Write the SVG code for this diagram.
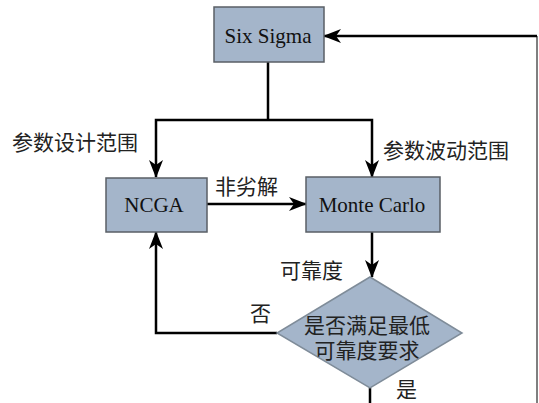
<svg xmlns="http://www.w3.org/2000/svg" width="539" height="403" viewBox="0 0 539 403">
<style>
.box{fill:#a4b5ca;stroke:#5a5f66;stroke-width:1.5}
.dia{fill:#a4b5ca;stroke:#7f8c99;stroke-width:1.5}
.en{font-family:"Liberation Serif",serif;font-size:21px;fill:#111;text-anchor:middle}
.cn{font-family:"Liberation Serif","Noto Sans CJK SC",sans-serif;font-size:21px;fill:#222}
.ln{fill:none;stroke:#000;stroke-width:2.5}
</style>
<defs>
<marker id="ah" viewBox="0 0 18 14" refX="17" refY="7" markerWidth="18" markerHeight="14" markerUnits="userSpaceOnUse" orient="auto">
<path d="M0,0 L18,7 L0,14 L5,7 Z" fill="#000"/>
</marker>
</defs>
<g id="connectors">
<path class="ln" d="M268,62 V120"/>
<path class="ln" d="M268,120 H156 V177" marker-end="url(#ah)"/>
<path class="ln" d="M268,120 H372 V177" marker-end="url(#ah)"/>
<path class="ln" d="M207,204 H306" marker-end="url(#ah)"/>
<path class="ln" d="M372,232 V277" marker-end="url(#ah)"/>
<path class="ln" d="M277,333 H156 V232" marker-end="url(#ah)"/>
<path class="ln" d="M370,388 V403"/>
<path fill="none" stroke="#555" stroke-width="1.5" d="M537,403 V36"/>
<path class="ln" d="M537,36 H324" marker-end="url(#ah)"/>
<text class="cn" x="12" y="150">参数设计范围</text>
<text class="cn" x="383" y="158">参数波动范围</text>
<text class="cn" x="215" y="194">非劣解</text>
<text class="cn" x="280" y="278">可靠度</text>
<text class="cn" x="250" y="321">否</text>
<text class="cn" x="396" y="397">是</text>
</g>
<g id="six-sigma">
<rect class="box" x="214" y="7" width="110" height="55"/>
<text class="en" x="268" y="43">Six Sigma</text>
</g>
<g id="ncga">
<rect class="box" x="106" y="178" width="101" height="54"/>
<text class="en" x="154" y="212">NCGA</text>
</g>
<g id="monte-carlo">
<rect class="box" x="306" y="177" width="134" height="55"/>
<text class="en" x="372" y="212">Monte Carlo</text>
</g>
<g id="decision">
<polygon class="dia" points="370,277 462,333 370,388 277,333"/>
<text class="cn" text-anchor="middle"><tspan x="367" y="333">是否满足最低</tspan><tspan x="367" y="358">可靠度要求</tspan></text>
</g>
</svg>
